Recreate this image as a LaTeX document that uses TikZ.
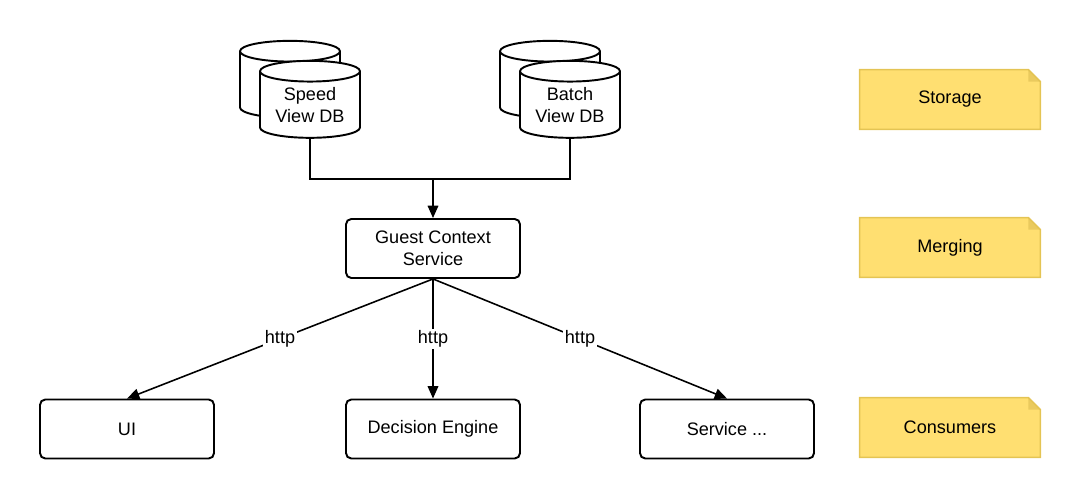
\documentclass[tikz,border=0pt]{standalone}
\usepackage{fontspec}
\setmainfont{Liberation Sans}
\usetikzlibrary{shapes.geometric,arrows.meta}

\definecolor{noteFill}{RGB}{255,223,113}
\definecolor{noteLine}{RGB}{228,196,84}
\definecolor{noteFold}{RGB}{234,202,94}

\tikzset{
  box/.style={draw, line width=1.1pt, rounded corners=3pt, minimum width=3.48cm, minimum height=1.18cm, align=center},
  db/.style={draw, line width=1.1pt, fill=white, cylinder, shape border rotate=90, aspect=0.3, minimum width=2cm, minimum height=1.54cm, inner sep=0pt, align=center},
  note/.style={fill=noteFill, minimum width=3.6cm, minimum height=1.18cm},
  link/.style={line width=0.9pt, -{Triangle[length=7pt,width=6pt]}},
  lbl/.style={fill=white, inner sep=1pt}
}

\begin{document}
\begin{tikzpicture}[x=0.02cm, y=-0.02cm, font=\fontsize{10.3}{12.4}\selectfont]
  \useasboundingbox (0,0) rectangle (1080,500);
  % Storage
  \node[db] (speedback) at (290,85) {\phantom{Speed}\\\phantom{View DB}};
  \node[db] (speed) at (310,105) {Speed\\View DB};
  \node[db] (batchback) at (550,85) {\phantom{Batch}\\\phantom{View DB}};
  \node[db] (batch) at (570,105) {Batch\\View DB};
  % Merging
  \node[box] (guest) at (433,248.5) {Guest Context\\Service};
  \coordinate (join) at (433,179);
  \draw[line width=0.9pt] (speed.south) |- (join) -| (batch.south);
  \draw[link] (join) -- (guest.north);
  % Consumers
  \node[box] (ui) at (127,429) {UI};
  \node[box] (engine) at (433,429) {Decision Engine};
  \node[box] (other) at (727,429) {Service ...};
  \draw[link] (guest.south) -- node[lbl]{http} (ui.north);
  \draw[link] (guest.south) -- node[lbl]{http} (engine.north);
  \draw[link] (guest.south) -- node[lbl]{http} (other.north);
  % Notes
  \node[note] (storage) at (950,99.5) {Storage};
  \node[note] (merging) at (950,247.5) {Merging};
  \node[note] (consumers) at (950,427.5) {Consumers};
  \foreach \n in {storage,merging,consumers}{
    \fill[white] ([xshift=-0.24cm]\n.north east) -- (\n.north east) -- ([yshift=-0.24cm]\n.north east) -- cycle;
    \fill[noteFold] ([xshift=-0.24cm]\n.north east) -- ([yshift=-0.24cm]\n.north east) -- ([xshift=-0.24cm,yshift=-0.24cm]\n.north east) -- cycle;
    \draw[noteLine, line width=0.9pt] (\n.north west) -- ([xshift=-0.24cm]\n.north east) -- ([yshift=-0.24cm]\n.north east) -- (\n.south east) -- (\n.south west) -- cycle;
  }
\end{tikzpicture}
\end{document}
